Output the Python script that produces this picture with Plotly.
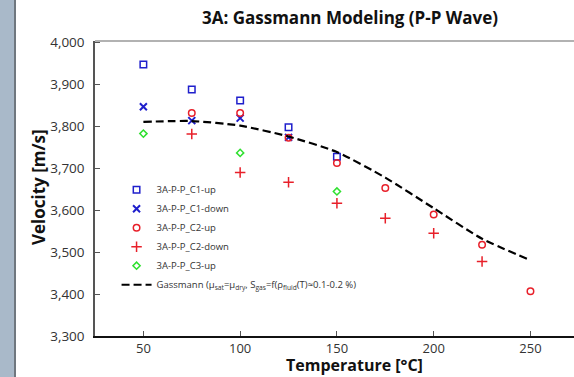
import plotly.graph_objects as go

temps_c1_up = [50, 75, 100, 125, 150]
vel_c1_up = [3948, 3888, 3862, 3798, 3728]

temps_c1_down = [50, 75, 100, 125]
vel_c1_down = [3847, 3814, 3820, 3774]

temps_c2_up = [75, 100, 125, 150, 175, 200, 225, 250]
vel_c2_up = [3832, 3832, 3773, 3713, 3653, 3590, 3518, 3407]

temps_c2_down = [75, 100, 125, 150, 175, 200, 225]
vel_c2_down = [3782, 3690, 3667, 3617, 3581, 3545, 3478]

temps_c3_up = [50, 100, 150]
vel_c3_up = [3783, 3737, 3645]

temps_gass = [50, 75, 100, 125, 150, 175, 200, 225, 250]
vel_gass = [3811, 3813, 3802, 3776, 3739, 3678, 3605, 3532, 3481]

x_ticks = [50, 100, 150, 200, 250]
y_ticks = [3300, 3400, 3500, 3600, 3700, 3800, 3900, 4000]

BLUE = "#1f1fcc"
RED = "#e8202a"
GREEN = "#2fe02f"
FONT = "Open Sans"

fig = go.Figure()
fig.add_trace(go.Scatter(x=temps_c1_up, y=vel_c1_up, mode="markers", name="3A-P-P_C1-up",
                         marker=dict(symbol="square-open", size=6.5, color=BLUE, line=dict(width=1.5, color=BLUE))))
fig.add_trace(go.Scatter(x=temps_c1_down, y=vel_c1_down, mode="markers", name="3A-P-P_C1-down",
                         marker=dict(symbol="x-thin", size=7, color=BLUE, line=dict(width=2, color=BLUE))))
fig.add_trace(go.Scatter(x=temps_c2_up, y=vel_c2_up, mode="markers", name="3A-P-P_C2-up",
                         marker=dict(symbol="circle-open", size=6.5, color=RED, line=dict(width=1.5, color=RED))))
fig.add_trace(go.Scatter(x=temps_c2_down, y=vel_c2_down, mode="markers", name="3A-P-P_C2-down",
                         marker=dict(symbol="cross-thin", size=7.5, color=RED, line=dict(width=1.5, color=RED))))
fig.add_trace(go.Scatter(x=temps_c3_up, y=vel_c3_up, mode="markers", name="3A-P-P_C3-up",
                         marker=dict(symbol="diamond-open", size=5.5, color=GREEN, line=dict(width=1.5, color=GREEN))))
fig.add_trace(go.Scatter(x=temps_gass, y=vel_gass, mode="lines",
                         name="Gassmann (μ<sub>sat</sub>=μ<sub>dry</sub>, S<sub>gas</sub>=f(ρ<sub>fluid</sub>(T)≈0.1-0.2 %)",
                         line=dict(color="black", width=2.2, dash="8px,4px", shape="spline", smoothing=0.6)))

W, H = 574, 377
L, R, T, B = 95, 0, 41, 41
pw = W - L - R
ph = H - T - B

fig.update_layout(
    width=W, height=H,
    margin=dict(l=L, r=R, t=T, b=B),
    paper_bgcolor="white", plot_bgcolor="white",
    font=dict(family=FONT, color="#333333", size=12),
    title=dict(text="<b>3A: Gassmann Modeling (P-P Wave)</b>", x=(350 - L) / pw, xref="paper",
               xanchor="center", y=1 - 18 / H, yanchor="middle",
               font=dict(family=FONT, size=17, color="#111111")),
    showlegend=True,
    legend=dict(x=0.045, y=0.545, xanchor="left", yanchor="top", bgcolor="rgba(0,0,0,0)",
                font=dict(family=FONT, size=9.5, color="#333333"), tracegroupgap=0),
    xaxis=dict(range=[25, 272.5], tickvals=x_ticks, ticktext=[str(v) for v in x_ticks],
               showgrid=False, zeroline=False, showline=True, linecolor="#111111", linewidth=1.5,
               ticks="inside", ticklen=5, tickcolor="#555555", ticklabelstandoff=0,
               tickfont=dict(size=13, color="#333333")),
    yaxis=dict(range=[3300, 4004], tickvals=y_ticks, ticktext=[f"{v:,}" for v in y_ticks],
               showgrid=False, zeroline=False, showline=True, linecolor="#555555", linewidth=1.5,
               ticks="inside", ticklen=5, tickcolor="#555555", ticklabelstandoff=6,
               tickfont=dict(size=13.5, color="#333333")),
    annotations=[
        dict(text="<b>Temperature [°C]</b>", xref="paper", yref="paper", x=(354 - L) / pw, y=-(B - 0.5) / ph,
             xanchor="center", yanchor="bottom", showarrow=False, borderpad=0,
             font=dict(family=FONT, size=16, color="#111111")),
        dict(text="<b>Velocity [m/s]</b>", xref="paper", yref="paper", x=-(L - 38) / pw, y=1 - (187 - T) / ph,
             xanchor="center", yanchor="middle", showarrow=False, textangle=-90,
             font=dict(family=FONT, size=17, color="#111111")),
    ],
    shapes=[
        dict(type="rect", xref="paper", yref="paper", x0=-L / pw, x1=-(L - 14) / pw, y0=-B / ph,
             y1=1 + T / ph, fillcolor="#a9b9c9", line=dict(width=0), layer="below"),
        dict(type="line", xref="paper", yref="paper", x0=-(L - 15) / pw, x1=-(L - 15) / pw, y0=-B / ph,
             y1=1 + T / ph, line=dict(color="#3f4a55", width=1.5)),
        dict(type="line", xref="paper", yref="paper", x0=0, x1=1, y0=1, y1=1,
             line=dict(color="#999999", width=1.5)),
    ],
)

fig.write_html("out.html")
